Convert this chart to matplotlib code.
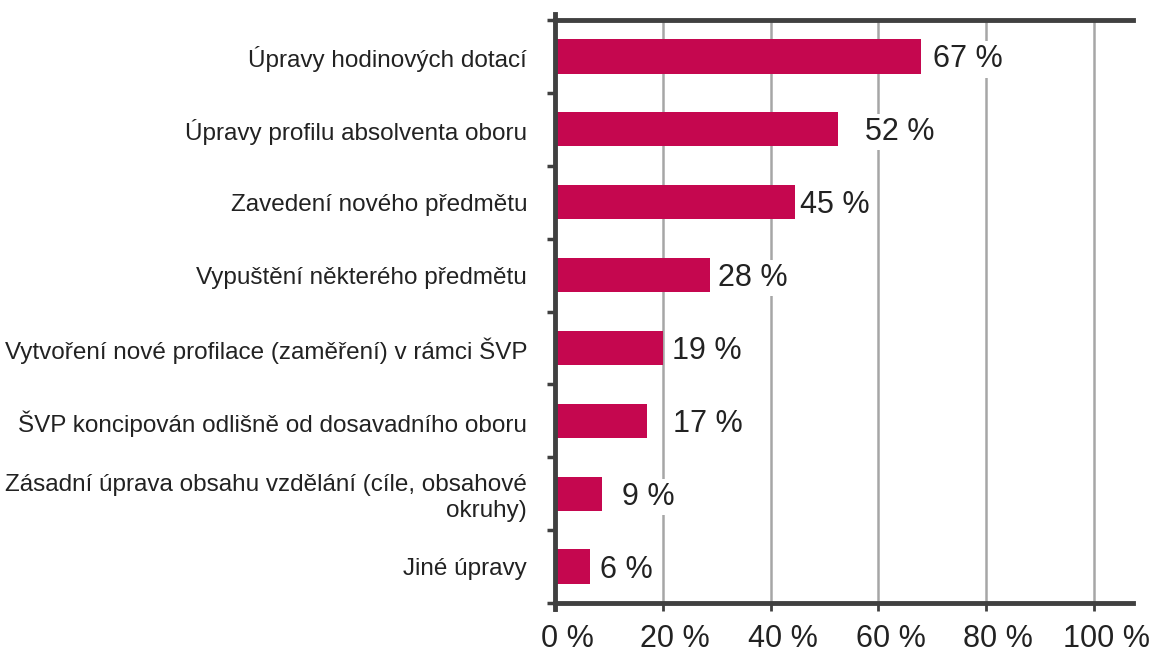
import matplotlib.pyplot as plt
import matplotlib.transforms as mtransforms
import numpy as np

categories = [
    "Úpravy hodinových dotací",
    "Úpravy profilu absolventa oboru",
    "Zavedení nového předmětu",
    "Vypuštění některého předmětu",
    "Vytvoření nové profilace (zaměření) v rámci ŠVP",
    "ŠVP koncipován odlišně od dosavadního oboru",
    "Zásadní úprava obsahu vzdělání (cíle, obsahové\nokruhy)",
    "Jiné úpravy",
]
values = [67.9, 52.4, 44.5, 28.8, 20.0, 17.1, 8.8, 6.5]
value_labels = ["67 %", "52 %", "45 %", "28 %", "19 %", "17 %", "9 %", "6 %"]
x_ticks = [0, 20, 40, 60, 80, 100]
x_tick_labels = ["0 %", "20 %", "40 %", "60 %", "80 %", "100 %"]

# gap in pixels between bar end and its label, as in the original
label_gap = [12, 27, 5, 8, 9, 26, 20, 10]

bar_color = "#C5074F"
axis_color = "#404040"
grid_color = "#A6A6A6"
text_color = "#222222"

plt.rcParams["font.family"] = ["Liberation Sans", "DejaVu Sans"]

fig = plt.figure(figsize=(11.63, 6.48), dpi=100)
ax = fig.add_axes([0.4772, 0.0694, 0.497, 0.8997])

y = np.arange(len(categories))
ax.barh(y, values, height=0.47, color=bar_color, zorder=2)

ax.set_xlim(0, 107.2)
ax.set_ylim(len(categories) - 0.5, -0.5)

ax.set_xticks(x_ticks)
ax.set_xticklabels(x_tick_labels, fontsize=22, color=text_color)
ax.tick_params(axis="x", length=6, width=2, color=axis_color, pad=9)
shift = mtransforms.ScaledTranslation(12 / 100, 0, fig.dpi_scale_trans)
for lab in ax.get_xticklabels():
    lab.set_transform(lab.get_transform() + shift)
for xv in x_ticks[1:]:
    ax.axvline(xv, color=grid_color, lw=1.8, zorder=1)

ax.set_yticks(np.arange(len(categories) + 1) - 0.5)
ax.set_yticklabels([])
ax.tick_params(axis="y", which="major", length=6, width=2.5, color=axis_color)
ax.set_yticks(y, minor=True)
ax.set_yticklabels(categories, minor=True, fontsize=17.5, color=text_color,
                   ha="right", multialignment="right")
ax.tick_params(axis="y", which="minor", length=0, pad=20)

for side in ["top", "bottom", "left"]:
    ax.spines[side].set_color(axis_color)
    ax.spines[side].set_linewidth(3.5)
    ax.spines[side].set_zorder(3)
ax.spines["right"].set_visible(False)
ax.spines["left"].set_bounds(-0.58, len(categories) - 0.42)

for i, (v, lab) in enumerate(zip(values, value_labels)):
    ax.annotate(lab, (v, i), xytext=(label_gap[i], -3), textcoords="offset pixels",
                ha="left", va="center", fontsize=22, color=text_color,
                bbox=dict(boxstyle="square,pad=0.1", fc="white", ec="none"),
                zorder=4)

fig.savefig("out.png", dpi=100)
